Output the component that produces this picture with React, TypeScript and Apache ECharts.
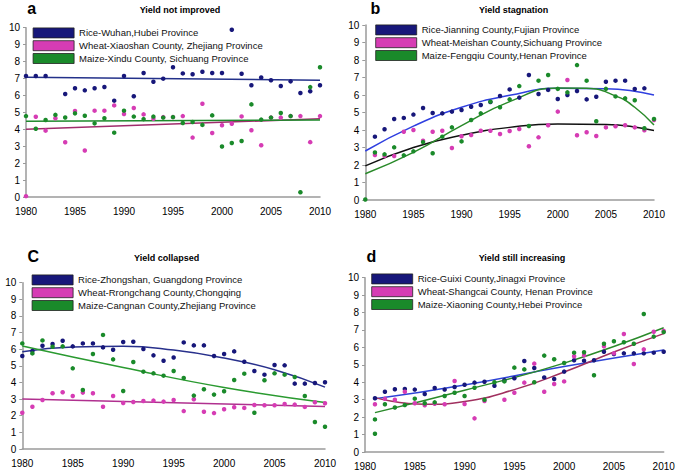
import React, { useEffect, useRef } from "react";
import * as echarts from "echarts";

const YEARS = [
  1980, 1981, 1982, 1983, 1984, 1985, 1986, 1987, 1988, 1989, 1990,
  1991, 1992, 1993, 1994, 1995, 1996, 1997, 1998, 1999, 2000,
  2001, 2002, 2003, 2004, 2005, 2006, 2007, 2008, 2009, 2010,
];
const X_TICKS = [1980, 1985, 1990, 1995, 2000, 2005, 2010];

// ---------- Panel a : Yield not improved ----------
const namesA = [
  "Rice-Wuhan,Hubei Province",
  "Wheat-Xiaoshan County, Zhejiang Province",
  "Maize-Xindu County, Sichuang Province",
];
const riceA = [7.15, 7.15, 7.15, 10.05, 6.08, 6.42, 6.3, 6.42, 6.5, 5.69, 7.15, 5.95, 7.32, 6.81, 6.99, 7.66, 7.3, 7.25, 7.4, 7.32, 7.32, 9.88, 7.28, 6.6, 7.06, 6.9, 6.56, 6.83, 6.14, 6.25, 6.6];
const wheatA = [0.05, 4.74, 3.92, 4.65, 3.23, 5.08, 2.75, 5.1, 5.1, 5.41, 4.9, 5.26, 4.88, 4.62, 4.72, 4.72, 4.78, 3.51, 5.51, 3.78, 4.24, 4.33, 4.76, 3.94, 3.06, 4.69, 4.69, 4.78, 4.78, 3.24, 4.78];
const maizeA = [4.78, 4.03, 4.55, 4.85, 4.7, 4.94, 4.8, 4.35, 4.65, 3.8, 5.1, 4.75, 4.6, 4.75, 4.69, 4.72, 4.37, 4.43, 4.26, 4.82, 2.98, 3.19, 3.31, 5.47, 4.57, 4.69, 4.96, 4.78, 0.28, 6.49, 7.66];
const trendYearsA = [1980, 2010];
const riceTrendA = [7.07, 6.9];
const wheatTrendA = [4.0, 4.62];
const maizeTrendA = [4.47, 4.55];

// ---------- Panel b : Yield stagnation ----------
const namesB = [
  "Rice-Jianning County,Fujian Province",
  "Wheat-Meishan County,Sichuang Province",
  "Maize-Fengqiu County,Henan Province",
];
const riceB = [null, 3.62, 4.04, 4.63, 4.69, 4.88, 5.26, 4.97, 4.95, 5.05, 5.14, 5.33, 5.43, 5.6, 5.94, 6.32, 5.85, 7.14, 6.06, 6.29, 5.77, 6.0, 6.23, 5.75, 5.9, 6.76, 6.82, 6.82, 6.34, 6.38, null];
const wheatB = [null, 2.57, 2.51, 2.51, 3.9, 4.0, 3.39, 3.9, 3.96, 2.97, 3.64, 3.71, 3.96, 3.96, 3.77, 3.94, 4.06, 3.07, 3.58, 4.27, 5.05, 6.86, 3.7, 3.87, 3.66, 4.15, 4.21, 4.27, 4.15, 3.98, 4.57];
const maizeB = [0.03, 2.72, 2.61, 3.01, 2.55, 2.78, 3.31, 2.67, 3.62, 4.15, 3.35, 4.57, 4.95, 5.62, 5.3, 5.75, 6.51, 4.23, 6.82, 7.14, 6.35, 6.15, 7.71, 6.82, 4.5, 6.35, 5.92, 5.81, 5.7, 4.1, 4.63];
const trendYearsB = [1980, 1985, 1990, 1995, 2000, 2005, 2010];
const riceTrendB = [2.8, 4.22, 5.3, 5.98, 6.38, 6.36, 6.0];
const wheatTrendB = [1.95, 3.0, 3.7, 4.15, 4.35, 4.32, 3.97];
const maizeTrendYearsB = [1980, 1985, 1990, 1995, 2000, 2003, 2006, 2008, 2010];
const maizeTrendB = [1.5, 2.72, 4.25, 5.62, 6.4, 6.38, 5.95, 5.3, 4.28];

// ---------- Panel c : Yield collapsed ----------
const namesC = [
  "Rice-Zhongshan, Guangdong Province",
  "Wheat-Rrongchang County,Chongqing",
  "Maize-Cangnan County,Zhejiang Province",
];
const riceC = [5.59, 5.89, 6.21, 6.31, 6.51, 6.17, 6.35, 6.35, 6.11, 5.97, 6.43, 6.45, 6.01, 5.63, 5.31, 5.5, 6.41, 6.23, 6.23, 5.59, 5.71, 5.87, 5.25, 4.69, 4.47, 5.05, 5.03, 3.93, 3.93, 3.97, 4.01];
const wheatC = [2.18, 2.54, 2.95, 3.35, 3.41, 3.19, 3.39, 3.35, 2.54, 3.19, 2.77, 2.83, 2.89, 2.91, 2.85, 2.95, 2.28, 2.99, 2.24, 2.16, 2.39, 2.51, 2.47, 2.65, 2.63, 2.63, 2.71, 2.67, 2.53, 2.81, 2.75];
const maizeC = [6.35, 5.75, 6.53, 6.15, 6.17, 4.85, 3.55, 5.71, 6.86, 5.39, 3.49, 5.23, 4.65, 4.55, 4.41, 4.69, 4.27, 3.21, 3.59, 3.27, 3.47, 4.15, 4.53, 2.18, 4.13, 4.55, 4.47, 4.33, 3.19, 1.62, 1.34];
const riceTrendYearsC = [1980, 1985, 1990, 1995, 2000, 2005, 2010];
const riceTrendC = [5.85, 6.13, 6.18, 5.95, 5.47, 4.77, 3.72];
const wheatTrendYearsC = [1980, 2010];
const wheatTrendC = [3.0, 2.56];
const maizeTrendYearsC = [1980, 1990, 2000, 2010];
const maizeTrendC = [6.2, 4.9, 3.7, 2.8];

// ---------- Panel d : Yield still increasing ----------
const namesD = [
  "Rice-Guixi County,Jinagxi Province",
  "Wheat-Shangcai County, Henan Province",
  "Maize-Xiaoning County,Hebei Province",
];
const riceD = [null, 3.08, 3.46, 3.6, 3.62, 3.58, 3.33, 3.67, 3.58, 3.73, 3.86, 3.98, 4.03, 3.8, 4.12, 4.23, 5.22, 4.82, 4.28, 4.19, 4.61, 5.26, 5.24, 5.26, 5.75, 5.62, 5.66, 5.66, 5.66, 5.7, 5.75];
const wheatD = [null, 2.74, 3.05, 3.0, 3.46, 2.8, 2.68, 2.77, 2.74, 4.07, 2.75, 1.93, 2.93, null, 3.0, 3.4, 3.98, 5.07, 3.46, 3.9, 4.05, 5.49, 5.55, null, 6.06, 5.66, 6.77, 5.05, 5.89, 6.9, 6.95];
const maizeD = [null, 1.87, 2.74, 2.55, 2.7, 3.06, 2.8, 2.85, 3.21, 3.4, 3.21, 3.69, 3.0, 4.0, 4.05, 4.84, 4.74, 4.0, 5.53, 5.32, 5.11, 5.7, 5.72, 4.4, 6.21, 6.35, 6.3, 6.21, 7.92, 6.62, 6.88];
const maizeDExtraYears = [1981];
const maizeDExtra = [1.05];
const riceTrendYearsD = [1981, 1990, 2000, 2010];
const riceTrendD = [3.05, 3.85, 4.9, 5.85];
const wheatTrendYearsD = [1981, 1986, 1990, 1995, 2000, 2005, 2010];
const wheatTrendD = [3.12, 2.74, 2.9, 3.58, 4.59, 5.74, 6.79];
const maizeTrendYearsD = [1981, 1990, 2000, 2010];
const maizeTrendD = [2.26, 3.54, 5.1, 7.13];

const TITLES = ["Yield not improved", "Yield stagnation", "Yield collapsed", "Yield still increasing"];
const LETTERS = ["a", "b", "C", "d"];

const FONT = '"Liberation Sans", Arial, sans-serif';
const DOT = ["#17177a", "#d63cb4", "#1a8a2a"];
const TREND = [
  ["#23318a", "#a02c6c", "#1e8a2c"],
  ["#2f3fe0", "#111111", "#2a8a2a"],
  ["#28308c", "#b0308f", "#2a9a30"],
  ["#2e44d6", "#a0305f", "#2a8a2a"],
];

const GRIDS = [
  { left: 26, top: 27.7, width: 294, height: 169.3 },
  { left: 365.3, top: 25, width: 288.7, height: 175 },
  { left: 22.3, top: 282.7, width: 302.7, height: 166.3 },
  { left: 365, top: 277.7, width: 298.7, height: 174.3 },
];
const LEGEND_POS = [
  { left: 32.7, top: 27.5 },
  { left: 375.3, top: 24.5 },
  { left: 31.7, top: 274.5 },
  { left: 371.3, top: 273.5 },
];
const LETTER_POS = [
  [31.7, 8.5],
  [375.3, 8.5],
  [33.3, 256.3],
  [371.3, 256.3],
];
const TITLE_POS = [
  [180, 9.5],
  [513.7, 9.5],
  [166.7, 257.7],
  [522, 257.7],
];

function pairs(xs: number[], ys: (number | null)[]) {
  const out: [number, number][] = [];
  xs.forEach((x, i) => {
    const v = ys[i];
    if (v !== null && v !== undefined) out.push([x, v]);
  });
  return out;
}

const PANELS = [
  {
    names: namesA,
    dots: [pairs(YEARS, riceA), pairs(YEARS, wheatA), pairs(YEARS, maizeA)],
    trends: [pairs(trendYearsA, riceTrendA), pairs(trendYearsA, wheatTrendA), pairs(trendYearsA, maizeTrendA)],
  },
  {
    names: namesB,
    dots: [pairs(YEARS, riceB), pairs(YEARS, wheatB), pairs(YEARS, maizeB)],
    trends: [pairs(trendYearsB, riceTrendB), pairs(trendYearsB, wheatTrendB), pairs(maizeTrendYearsB, maizeTrendB)],
  },
  {
    names: namesC,
    dots: [pairs(YEARS, riceC), pairs(YEARS, wheatC), pairs(YEARS, maizeC)],
    trends: [pairs(riceTrendYearsC, riceTrendC), pairs(wheatTrendYearsC, wheatTrendC), pairs(maizeTrendYearsC, maizeTrendC)],
  },
  {
    names: namesD,
    dots: [
      pairs(YEARS, riceD),
      pairs(YEARS, wheatD),
      pairs(YEARS, maizeD).concat(pairs(maizeDExtraYears, maizeDExtra)),
    ],
    trends: [pairs(riceTrendYearsD, riceTrendD), pairs(wheatTrendYearsD, wheatTrendD), pairs(maizeTrendYearsD, maizeTrendD)],
  },
];

export default function App() {
  const ref = useRef<HTMLDivElement>(null);

  useEffect(() => {
    if (!ref.current) return;
    const chart = echarts.init(ref.current, null, { renderer: "svg" });

    const series: any[] = [];
    PANELS.forEach((p, pi) => {
      p.trends.forEach((data, si) => {
        series.push({
          type: "line",
          name: `trend-${pi}-${si}`,
          xAxisIndex: pi,
          yAxisIndex: pi,
          data,
          smooth: data.length > 2 ? 0.5 : false,
          showSymbol: false,
          symbol: "none",
          lineStyle: { color: TREND[pi][si], width: 1.5 },
          itemStyle: { color: TREND[pi][si] },
          z: 3,
          silent: true,
        });
      });
      p.dots.forEach((data, si) => {
        series.push({
          type: "scatter",
          name: p.names[si],
          xAxisIndex: pi,
          yAxisIndex: pi,
          data,
          symbol: "circle",
          symbolSize: 4.5,
          itemStyle: { color: DOT[si], opacity: 1 },
          z: 4,
        });
      });
    });

    const graphic: any[] = [];
    LETTERS.forEach((l, i) => {
      graphic.push({
        type: "text",
        x: LETTER_POS[i][0],
        y: LETTER_POS[i][1],
        style: {
          text: l,
          fontSize: 16,
          fontWeight: "bold",
          fontFamily: FONT,
          fill: "#000",
          align: "center",
          verticalAlign: "middle",
        },
      });
      graphic.push({
        type: "text",
        x: TITLE_POS[i][0],
        y: TITLE_POS[i][1],
        style: {
          text: TITLES[i],
          fontSize: 9,
          fontWeight: "bold",
          fontFamily: FONT,
          fill: "#000",
          align: "center",
          verticalAlign: "middle",
        },
      });
    });

    const option: any = {
      animation: false,
      backgroundColor: "#fff",
      textStyle: { fontFamily: FONT },
      grid: GRIDS.map((g) => ({ ...g, containLabel: false })),
      xAxis: GRIDS.map((_, i) => ({
        type: "value",
        gridIndex: i,
        min: X_TICKS[0],
        max: X_TICKS[X_TICKS.length - 1],
        interval: 5,
        axisLine: { show: true, lineStyle: { color: "#9a9a9a", width: 1.5 } },
        axisTick: { show: false },
        splitLine: { show: false },
        axisLabel: { color: "#000", fontSize: 10, margin: 9, fontFamily: FONT, formatter: (v: number) => String(v) },
      })),
      yAxis: GRIDS.map((_, i) => ({
        type: "value",
        gridIndex: i,
        min: 0,
        max: 10,
        interval: 1,
        axisLine: { show: true, lineStyle: { color: "#9a9a9a", width: 1.5 } },
        axisTick: { show: true, length: 3, lineStyle: { color: "#9a9a9a" } },
        splitLine: { show: false },
        axisLabel: { color: "#000", fontSize: 10, margin: 6, fontFamily: FONT },
      })),
      legend: PANELS.map((p, i) => ({
        orient: "vertical",
        left: LEGEND_POS[i].left,
        top: LEGEND_POS[i].top,
        padding: 0,
        itemGap: 2,
        itemWidth: 41,
        itemHeight: 10,
        icon: "rect",
        selectedMode: false,
        textStyle: { fontSize: 9.5, color: "#111", fontFamily: FONT, lineHeight: 10, padding: [0, 0, 0, 0] },
        data: p.names.map((n, si) => ({
          name: n,
          itemStyle: { color: DOT[si], opacity: 1, borderColor: "#222", borderWidth: 0.8 },
        })),
      })),
      series,
      graphic,
    };

    chart.setOption(option);
    return () => chart.dispose();
  }, []);

  return (
    <div
      ref={ref}
      style={{ position: "absolute", left: 0, top: 0, width: 684, height: 475 }}
    />
  );
}
